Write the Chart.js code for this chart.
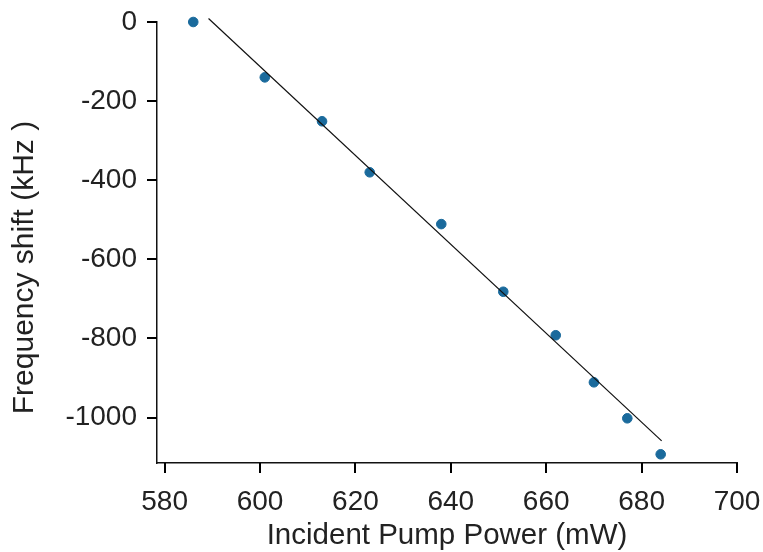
<!DOCTYPE html>
<html>
<head>
<meta charset="utf-8">
<script src="https://cdn.jsdelivr.net/npm/chart.js@4"></script>
<style>
html,body{margin:0;padding:0;background:#fff;}
#wrap{width:763px;height:552px;position:relative;}
</style>
</head>
<body>
<div id="wrap"><canvas id="c" width="763" height="552"></canvas></div>
<script>
const pumpPower = [586, 601, 613, 623, 638, 651, 662, 670, 677, 684];
const freqShift = [0, -140, -251, -380, -511, -682, -792, -911, -1002, -1093];
const fitX = [589.2, 684.2];
const fitY = [9, -1059];
const xTicks = [580, 600, 620, 640, 660, 680, 700];
const yTicks = [0, -200, -400, -600, -800, -1000];

const pts = pumpPower.map((x, i) => ({x: x, y: freqShift[i]}));
const fit = fitX.map((x, i) => ({x: x, y: fitY[i]}));
const txt = '#222';
const fontFam = '"Liberation Sans", Arial, sans-serif';
const TICK = 10;

const tickMarks = {
  id: 'tickMarks',
  afterDatasetsDraw(chart) {
    const ctx = chart.ctx;
    const xs = chart.scales.x, ys = chart.scales.y;
    const area = chart.chartArea;
    ctx.save();
    ctx.strokeStyle = '#000';
    ctx.lineWidth = 2;
    ctx.beginPath();
    xTicks.forEach(v => {
      const px = Math.round(xs.getPixelForValue(v));
      ctx.moveTo(px, area.bottom);
      ctx.lineTo(px, area.bottom + TICK);
    });
    yTicks.forEach(v => {
      const py = Math.round(ys.getPixelForValue(v));
      ctx.moveTo(area.left, py);
      ctx.lineTo(area.left - TICK, py);
    });
    ctx.stroke();
    ctx.restore();
  }
};

new Chart(document.getElementById('c'), {
  type: 'scatter',
  data: {
    datasets: [
      {
        type: 'line',
        data: fit,
        borderColor: '#111',
        borderWidth: 1.2,
        pointRadius: 0,
        fill: false,
        clip: false
      },
      {
        data: pts,
        backgroundColor: '#1a6a9c',
        borderColor: '#1a6a9c',
        pointRadius: 4.8,
        pointHoverRadius: 4.8,
        clip: false
      }
    ]
  },
  plugins: [tickMarks],
  options: {
    responsive: false,
    animation: false,
    layout: {padding: {left: 8, right: 26, top: 22, bottom: 0}},
    plugins: {legend: {display: false}, tooltip: {enabled: false}},
    scales: {
      x: {
        type: 'linear',
        min: 578.4,
        max: 700,
        afterBuildTicks: s => { s.ticks = xTicks.map(v => ({value: v})); },
        afterFit: s => { s.height = 89; s.paddingLeft = 0; s.paddingRight = 0; },
        grid: {display: false},
        border: {display: true, color: '#111', width: 1.5},
        ticks: {color: txt, font: {family: fontFam, size: 28}, padding: 14, maxRotation: 0, callback: v => String(v)},
        title: {display: true, text: 'Incident Pump Power (mW)', color: txt, font: {family: fontFam, size: 29.5, lineHeight: 1.1}, padding: {top: 0, bottom: 0}}
      },
      y: {
        type: 'linear',
        min: -1115,
        max: 0,
        afterBuildTicks: s => { s.ticks = yTicks.map(v => ({value: v})); },
        afterFit: s => { s.width = 149; s.paddingTop = 0; s.paddingBottom = 0; },
        grid: {display: false},
        border: {display: true, color: '#111', width: 1.5},
        ticks: {color: txt, font: {family: fontFam, size: 28}, padding: 12, callback: v => String(v)},
        title: {display: true, text: 'Frequency shift (kHz )      ', color: txt, font: {family: fontFam, size: 30, lineHeight: 1.1}, padding: {top: 0, bottom: 0}}
      }
    }
  }
});
</script>
</body>
</html>
